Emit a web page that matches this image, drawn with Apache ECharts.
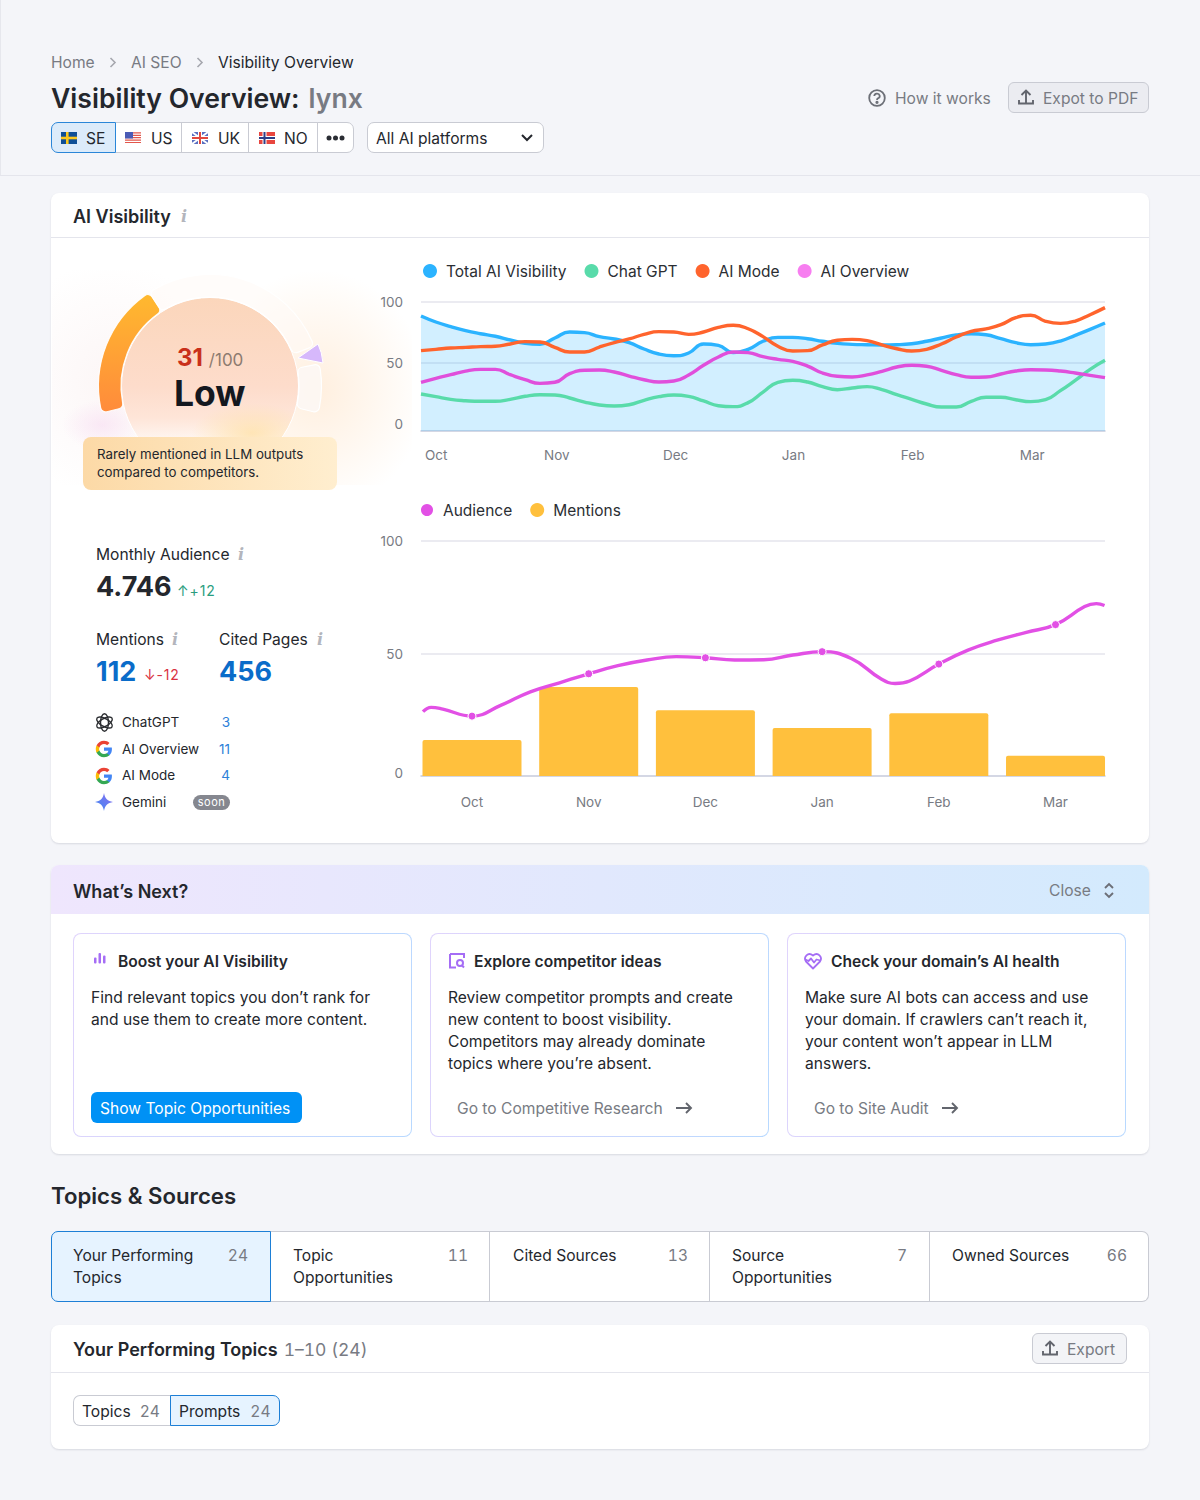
<!DOCTYPE html>
<html><head><meta charset="utf-8">
<script src="https://cdn.jsdelivr.net/npm/echarts@6/dist/echarts.min.js"></script>
<style>
*{box-sizing:border-box}
html,body{margin:0;padding:0}
body{width:1200px;height:1500px;background:#f4f5f9;font-family:Inter,"Noto Sans",sans-serif;color:#24272d;font-size:15.6px;position:relative;overflow:hidden}
.a{position:absolute;white-space:nowrap;line-height:22px;margin-top:1px}
.box{position:absolute;background:#fff;border-radius:8px;box-shadow:0 1px 2px rgba(40,50,80,.14)}
.g{color:#787b83}
.b{font-weight:600}
.hr{position:absolute;height:1px;background:#e4e5ec}
.btn{position:absolute;border:1.5px solid #c9cbd3;border-radius:6px;background:#ebecf1;height:31px}
.inf{position:absolute;font:italic 700 16px/16px "DejaVu Serif",serif;color:#b3b5bc}
.seg{position:absolute;top:122px;height:31px;border:1.5px solid #c9cbd3;background:#fff}
.tile{position:absolute;top:933px;height:204px;width:339px;border:1.5px solid transparent;border-radius:8px;background:linear-gradient(#fff,#fff) padding-box,linear-gradient(100deg,#e0d4fc,#b8d9ff) border-box}
.tab{position:absolute;top:1231px;height:71px;width:220px;background:#fff;border:1.5px solid #c9cbd3;border-left-width:0}
.n{text-align:right;width:40px;font-variant-numeric:tabular-nums}
.tn{font-variant-numeric:tabular-nums}
.s14{font-size:13.5px;margin-top:0}
.m0{margin-top:0}
svg{position:absolute;overflow:visible}
</style></head><body>

<div style="position:absolute;left:0;top:0;width:1px;height:175px;background:#e6e7ed"></div>
<div class="hr" style="left:0;top:175px;width:1200px"></div>

<div class="a g" style="left:51px;top:51px">Home</div>
<svg style="left:109px;top:57px" width="8" height="11" fill="none" stroke="#a5a7ae" stroke-width="1.6"><path d="M1.5 1l4.5 4.5L1.5 10"/></svg>
<div class="a g" style="left:131px;top:51px">AI SEO</div>
<svg style="left:196px;top:57px" width="8" height="11" fill="none" stroke="#a5a7ae" stroke-width="1.6"><path d="M1.5 1l4.5 4.5L1.5 10"/></svg>
<div class="a" style="left:218px;top:51px">Visibility Overview</div>
<div class="a b m0" style="left:51px;top:81px;font-size:26.6px;line-height:34px">Visibility Overview:<span style="color:#787b83;margin-left:9px">lynx</span></div>

<div class="seg" style="left:116px;width:66px;border-left:0"></div>
<div class="seg" style="left:181px;width:68px;border-left:1.5px solid #c9cbd3"></div>
<div class="seg" style="left:248px;width:70px"></div>
<div class="seg" style="left:317px;width:37px;border-radius:0 7px 7px 0"></div>
<div class="seg" style="left:51px;width:65px;background:#dcebfa;border-color:#2a86d8;border-radius:7px 0 0 7px"></div>
<svg style="left:61px;top:132px" width="16" height="12"><rect width="16" height="12" fill="#0f4f96"/><rect x="5" width="2.6" height="12" fill="#fcc81e"/><rect y="4.7" width="16" height="2.6" fill="#fcc81e"/></svg>
<div class="a" style="left:86px;top:127px">SE</div>
<svg style="left:125px;top:132px" width="16" height="12"><rect width="16" height="12" fill="#fff"/><path d="M0 .9h16M0 3.3h16M0 5.7h16M0 8.1h16M0 10.5h16" stroke="#e2574c" stroke-width="1.2"/><rect width="8" height="6.5" fill="#4a5bb5"/></svg>
<div class="a" style="left:151px;top:127px">US</div>
<svg style="left:192px;top:132px" width="16" height="12"><rect width="16" height="12" fill="#5a6fc0"/><path d="M0 0l16 12M16 0L0 12" stroke="#fff" stroke-width="2"/><path d="M8 0v12M0 6h16" stroke="#fff" stroke-width="4"/><path d="M8 0v12M0 6h16" stroke="#e2483d" stroke-width="2"/></svg>
<div class="a" style="left:218px;top:127px">UK</div>
<svg style="left:259px;top:132px" width="16" height="12"><rect width="16" height="12" fill="#e8463f"/><path d="M5.5 0v12M0 6h16" stroke="#fff" stroke-width="4"/><path d="M5.5 0v12M0 6h16" stroke="#2e3e86" stroke-width="2"/></svg>
<div class="a" style="left:284px;top:127px">NO</div>
<svg style="left:326px;top:135px" width="20" height="6" fill="#2a2d33"><circle cx="3" cy="3" r="2.5"/><circle cx="9.5" cy="3" r="2.5"/><circle cx="16" cy="3" r="2.5"/></svg>
<div class="seg" style="left:367px;width:177px;border-radius:7px"></div>
<div class="a" style="left:376px;top:127px">All AI platforms</div>
<svg style="left:521px;top:134px" width="12" height="8" fill="none" stroke="#24272d" stroke-width="2"><path d="M1 1l5 5 5-5"/></svg>

<svg style="left:868px;top:89px" width="18" height="18" fill="none" stroke="#6c6f77" stroke-width="1.8"><circle cx="9" cy="9" r="7.8"/><path d="M6.3 7a2.7 2.5 0 1 1 3.6 2.4c-.7.3-.9.7-.9 1.5"/><circle cx="9" cy="13.3" r=".7" fill="#6c6f77"/></svg>
<div class="a g" style="left:895px;top:87px">How it works</div>
<div class="btn" style="left:1008px;top:82px;width:141px"></div>
<svg style="left:1018px;top:89px" width="16" height="16" fill="none" stroke="#62656d" stroke-width="1.9"><path d="M8 14V2M3.5 6L8 1.5 12.500 6M1 11v3.500h14V11"/></svg>
<div class="a g" style="left:1043px;top:87px">Expot to PDF</div>

<!-- AI visibility card -->
<div class="box" style="left:51px;top:193px;width:1098px;height:650px"></div>
<div class="a b" style="left:73px;top:205px;font-size:18px">AI Visibility</div>
<div class="inf" style="left:181px;top:209px">i</div>
<div class="hr" style="left:51px;top:237px;width:1098px"></div>

<!-- Gauge decoration -->
<div style="position:absolute;left:52px;top:270px;width:360px;height:215px;background:
radial-gradient(ellipse 110px 120px at 265px 120px,rgba(255,226,196,.55),rgba(255,255,255,0) 100%),
radial-gradient(ellipse 40px 25px at 50px 155px,rgba(246,214,240,.5),rgba(255,255,255,0) 100%),
radial-gradient(ellipse 110px 120px at 60px 110px,rgba(250,240,240,.6),rgba(255,255,255,0) 100%)"></div>
<div style="position:absolute;left:121px;top:297px;width:178px;height:178px;border-radius:50%;border:1.5px solid #fff;background:radial-gradient(ellipse 60px 30px at 130px 135px,rgba(255,226,170,.8),rgba(255,226,170,0)),linear-gradient(180deg,#fbd6bb 0%,#fddccb 50%,#fee5d8 68%,rgba(255,245,238,.6) 82%,rgba(255,255,255,0) 90%)"></div>
<div id="gauge" style="position:absolute;left:60px;top:270px;width:300px;height:210px"></div>
<svg style="left:0;top:0" width="1200" height="500"><path d="M298 358 L318 344 Q322 352 323 363 Z" fill="#d6b8fb" stroke="#fff" stroke-width="1" stroke-linejoin="round"/></svg>
<div class="a" style="left:177px;top:346px;font-size:24px;font-weight:700;color:#c9301a">31<span style="font-size:17px;font-weight:400;color:#8d7b70;margin-left:6px">/100</span></div>
<div class="a" style="left:174px;top:372px;font-size:35.5px;line-height:42px;font-weight:700;color:#14181f">Low</div>
<div style="position:absolute;left:83px;top:437px;width:254px;height:53px;border-radius:8px;background:linear-gradient(90deg,#fcd9a6,#ffeecf)"></div>
<div class="a m0" style="left:97px;top:445px;font-size:13.3px;line-height:18px">Rarely mentioned in LLM outputs<br>compared to competitors.</div>

<div class="a" style="left:96px;top:543px">Monthly Audience</div><div class="inf" style="left:238px;top:547px">i</div>
<div class="a" style="left:96px;top:569px;font-size:27px;line-height:34px;font-weight:700">4.746</div>
<div class="a m0" style="left:177px;top:580px;font-size:14px;color:#2a9d7e;letter-spacing:.9px">↑+12</div>
<div class="a" style="left:96px;top:628px">Mentions</div><div class="inf" style="left:172px;top:632px">i</div>
<div class="a" style="left:219px;top:628px">Cited Pages</div><div class="inf" style="left:317px;top:632px">i</div>
<div class="a" style="left:96px;top:654px;font-size:27px;line-height:34px;font-weight:700;color:#0a6cc9">112</div>
<div class="a m0" style="left:144px;top:664px;font-size:14px;color:#d9303f;letter-spacing:.8px">↓-12</div>
<div class="a" style="left:219px;top:654px;font-size:27px;line-height:34px;font-weight:700;color:#0a6cc9">456</div>

<svg style="left:95px;top:713px" width="19" height="19" viewBox="0 0 24 24" fill="none" stroke="#2b2d31" stroke-width="1.7"><ellipse cx="12" cy="12" rx="5" ry="11"/><ellipse cx="12" cy="12" rx="5" ry="11" transform="rotate(60 12 12)"/><ellipse cx="12" cy="12" rx="5" ry="11" transform="rotate(120 12 12)"/></svg>
<div class="a s14" style="left:122px;top:711px">ChatGPT</div><div class="a s14" style="left:190px;width:40px;top:711px;color:#2c80d8;text-align:right">3</div>
<svg style="left:95px;top:740px" width="18" height="18" viewBox="0 0 24 24"><use href="#gg"/></svg>
<div class="a s14" style="left:122px;top:738px">AI Overview</div><div class="a s14" style="left:190px;width:40px;top:738px;color:#2c80d8;text-align:right">11</div>
<svg style="left:95px;top:767px" width="18" height="18" viewBox="0 0 24 24"><defs><g id="gg"><path fill="#4285F4" d="M22.560 12.250c0-.78-.07-1.530-.2-2.250H12v4.260h5.920c-.26 1.370-1.040 2.530-2.210 3.310v2.770h3.570c2.080-1.920 3.280-4.740 3.280-8.090z"/><path fill="#34A853" d="M12 23c2.970 0 5.460-.98 7.280-2.660l-3.570-2.770c-.98.66-2.230 1.060-3.710 1.060-2.860 0-5.290-1.930-6.160-4.530H2.180v2.840C3.990 20.530 7.700 23 12 23z"/><path fill="#FBBC05" d="M5.840 14.090c-.22-.66-.35-1.360-.35-2.090s.13-1.430.35-2.090V7.070H2.180C1.430 8.550 1 10.220 1 12s.43 3.450 1.180 4.930l3.660-2.840z"/><path fill="#EA4335" d="M12 5.380c1.620 0 3.060.56 4.210 1.640l3.150-3.150C17.450 2.090 14.970 1 12 1 7.700 1 3.990 3.470 2.180 7.070l3.660 2.840c.87-2.600 3.300-4.530 6.160-4.530z"/></g></defs><use href="#gg"/></svg>
<div class="a s14" style="left:122px;top:764px">AI Mode</div><div class="a s14" style="left:190px;width:40px;top:764px;color:#2c80d8;text-align:right">4</div>
<svg style="left:95px;top:793px" width="18" height="18" viewBox="0 0 24 24"><defs><linearGradient id="gm" x1="0" y1="1" x2="1" y2="0"><stop offset="0" stop-color="#3d8bf2"/><stop offset="1" stop-color="#8b6cf0"/></linearGradient></defs><path fill="url(#gm)" d="M12 0C13 7 17 11 24 12C17 13 13 17 12 24C11 17 7 13 0 12C7 11 11 7 12 0Z"/></svg>
<div class="a s14" style="left:122px;top:791px">Gemini</div>
<div class="a m0" style="left:193px;top:795px;width:37px;height:15px;border-radius:8px;background:#85878f;color:#fff;font-size:11px;line-height:14px;text-align:center;letter-spacing:.5px">soon</div>

<div id="chartVis" style="position:absolute;left:370px;top:250px;width:780px;height:220px"></div>
<div id="chartAud" style="position:absolute;left:370px;top:490px;width:780px;height:340px"></div>

<!-- What's next -->
<div class="box" style="left:51px;top:865px;width:1098px;height:289px"></div>
<div style="position:absolute;left:51px;top:865px;width:1098px;height:49px;border-radius:8px 8px 0 0;background:linear-gradient(90deg,#efe6fd,#d3eafd)"></div>
<div class="a b m0" style="left:73px;top:881px;font-size:18px">What’s Next?</div>
<div class="a g" style="left:1049px;top:879px">Close</div>
<svg style="left:1103px;top:882px" width="12" height="17" fill="none" stroke="#6c6f77" stroke-width="1.9"><path d="M2 6l4-4 4 4M2 11l4 4 4-4"/></svg>

<div class="tile" style="left:73px"></div><div class="tile" style="left:430px"></div><div class="tile" style="left:787px"></div>

<svg style="left:94px;top:953px" width="13" height="13" fill="#a56df5"><rect y="4.500" width="2.500" height="6" rx="1"/><rect x="4.500" y="0" width="2.500" height="10.500" rx="1"/><rect x="9" y="2.500" width="2.500" height="8" rx="1"/></svg>
<div class="a b" style="left:118px;top:950px">Boost your AI Visibility</div>
<div class="a" style="left:91px;top:986px">Find relevant topics you don’t rank for<br>and use them to create more content.</div>
<div style="position:absolute;left:91px;top:1092px;width:211px;height:31px;border-radius:6px;background:#0091f5"></div>
<div class="a" style="left:100px;top:1097px;color:#fff">Show Topic Opportunities</div>

<svg style="left:449px;top:953px" width="17" height="16" fill="none" stroke="#a56df5" stroke-width="2"><path d="M1 1h14v4M1 1v13.500h6"/><circle cx="11" cy="10" r="3"/><path d="M13 12.500l2 2"/></svg>
<div class="a b" style="left:474px;top:950px">Explore competitor ideas</div>
<div class="a" style="left:448px;top:986px">Review competitor prompts and create<br>new content to boost visibility.<br>Competitors may already dominate<br>topics where you’re absent.</div>
<div class="a g" style="left:457px;top:1097px">Go to Competitive Research</div>
<svg style="left:675px;top:1102px" width="18" height="12" fill="none" stroke="#62656d" stroke-width="1.9"><path d="M1 6h15M11 1l5 5-5 5"/></svg>

<svg style="left:804px;top:952px" width="18" height="18" viewBox="0 0 18 18" fill="none" stroke="#a56df5" stroke-width="1.8" stroke-linejoin="round"><path d="M9 16.500L2 9.500C-1 5 4 -.5 9 3.500C14 -.5 19 5 16 9.500Z"/><path d="M1.500 7.500l3 1.500L7 6.500 10 10.500 12.500 7.500l4 1"/></svg>
<div class="a b" style="left:831px;top:950px">Check your domain’s AI health</div>
<div class="a" style="left:805px;top:986px">Make sure AI bots can access and use<br>your domain. If crawlers can’t reach it,<br>your content won’t appear in LLM<br>answers.</div>
<div class="a g" style="left:814px;top:1097px">Go to Site Audit</div>
<svg style="left:941px;top:1102px" width="18" height="12" fill="none" stroke="#62656d" stroke-width="1.9"><path d="M1 6h15M11 1l5 5-5 5"/></svg>

<!-- Topics & sources -->
<div class="a b m0" style="left:51px;top:1180px;font-size:22.2px;line-height:32px">Topics &amp; Sources</div>
<div class="tab" style="left:270px"></div><div class="tab" style="left:490px"></div><div class="tab" style="left:710px"></div>
<div class="tab" style="left:930px;width:219px;border-radius:0 7px 7px 0"></div>
<div class="tab" style="left:51px;border:1.5px solid #1d7fd6;background:#e6f3ff;border-radius:7px 0 0 7px"></div>
<div class="a" style="left:73px;top:1244px">Your Performing<br>Topics</div><div class="a g n" style="left:208px;top:1244px">24</div>
<div class="a" style="left:293px;top:1244px">Topic<br>Opportunities</div><div class="a g n" style="left:428px;top:1244px">11</div>
<div class="a" style="left:513px;top:1244px">Cited Sources</div><div class="a g n" style="left:648px;top:1244px">13</div>
<div class="a" style="left:732px;top:1244px">Source<br>Opportunities</div><div class="a g n" style="left:867px;top:1244px">7</div>
<div class="a" style="left:952px;top:1244px">Owned Sources</div><div class="a g n" style="left:1087px;top:1244px">66</div>

<div class="box" style="left:51px;top:1325px;width:1098px;height:124px"></div>
<div class="a b" style="left:73px;top:1338px;font-size:18px">Your Performing Topics<span class="g tn" style="font-weight:400;margin-left:6px;font-size:17.5px">1–10 (24)</span></div>
<div class="hr" style="left:51px;top:1372px;width:1098px"></div>
<div class="btn" style="left:1032px;top:1333px;width:95px;background:#f3f4f7"></div>
<svg style="left:1042px;top:1340px" width="16" height="16" fill="none" stroke="#62656d" stroke-width="1.9"><path d="M8 14V2M3.500 6L8 1.500 12.500 6M1 11v3.500h14V11"/></svg>
<div class="a g" style="left:1067px;top:1338px">Export</div>
<div style="position:absolute;left:73px;top:1395px;width:99px;height:31px;border:1.5px solid #c9cbd3;border-right:0;border-radius:7px 0 0 7px;background:#fff"></div>
<div style="position:absolute;left:170px;top:1395px;width:110px;height:31px;border:1.5px solid #1d7fd6;border-radius:0 7px 7px 0;background:#e6f3ff"></div>
<div class="a" style="left:82px;top:1400px">Topics<span class="g tn" style="margin-left:9px">24</span></div>
<div class="a" style="left:179px;top:1400px">Prompts<span class="g tn" style="margin-left:10px">24</span></div>

<script>
// ---- AI Visibility chart (samples every eighth of a month) ----
const visWeeks = ['Oct 1','Oct 2','Oct 3','Oct 4','Oct 5','Oct 6','Oct 7','Oct 8','Nov 1','Nov 2','Nov 3','Nov 4','Nov 5','Nov 6','Nov 7','Nov 8','Dec 1','Dec 2','Dec 3','Dec 4','Dec 5','Dec 6','Dec 7','Dec 8','Jan 1','Jan 2','Jan 3','Jan 4','Jan 5','Jan 6','Jan 7','Jan 8','Feb 1','Feb 2','Feb 3','Feb 4','Feb 5','Feb 6','Feb 7','Feb 8','Mar 1','Mar 2','Mar 3','Mar 4','Mar 5','Mar 6','Mar 7'];
const totalVisibility = [88.5,83.6,79.8,76.5,74,71.9,68.9,66.1,65.3,70.5,75.4,74.9,71.6,69.7,66.7,61.5,57.4,56,58.2,65.6,64.5,58.5,61.2,67.8,71,71,69.9,67.8,66.1,65.3,65,64.8,65,65.8,67.8,70.5,73,74,73.2,69.9,66.7,65,65.6,68,72.7,77.6,82.8];
const chatGpt = [24.6,22.4,20.2,19.1,18.6,18.6,20.2,22.7,24,23.8,21.3,18,15.6,14.8,15.8,19.4,22.4,23.8,22.7,18.9,15,14.2,17.5,26.2,34.2,35.8,34.4,30.6,28.1,29.5,30.6,28.1,24,20.2,16.4,13.9,13.9,18.6,21.9,21.9,19.9,18.3,19.9,27.3,35.8,44.8,52.2];
const aiMode = [60.1,61.2,62.3,62.8,63.4,63.7,65.6,67.5,67.2,62.8,59,59,63.1,66.7,69.7,73.5,75.7,75.4,73.5,75.4,79.2,80.9,78.1,71.6,63.7,59.8,60.1,64.8,68.6,69.4,68.3,64.8,61.7,59.8,61.2,65.6,71.3,76,77.9,81.4,87.2,89.1,84.2,82.5,84.4,89.6,95.4];
const aiOverview = [34.2,37.4,40.4,43.4,44.8,44.8,40.4,36.3,33.3,34.2,41.3,44,44.3,42.6,39.3,36.3,34.4,35.2,40.2,48.1,54.9,59,58.5,55.2,53,51.4,47.5,41.8,39.1,38.5,40.2,43.2,46.7,48.1,47.3,44,40.4,38.3,38.5,41,43.4,44.5,44.3,43.4,41.8,39.9,38];

// ---- Audience / Mentions chart ----
const months = ['Oct','Nov','Dec','Jan','Feb','Mar'];
const monthIndex = [0,1,2,3,4,5];
const mentions = [15.3,37.9,28,20.4,26.7,8.6];
const audienceX = [-0.42,-0.35,-0.25,0,0.25,0.5,0.75,1,1.25,1.5,1.75,2,2.25,2.5,2.75,3,3.25,3.5,3.625,3.75,4,4.25,4.5,4.75,5,5.25,5.35,5.42];
const audience = [24.3,26.2,25.4,22.3,27.2,33.1,37.1,41.1,44.7,47.2,48.7,48.2,47.2,47.3,49.4,50.9,47.9,39,36.8,37.9,45.4,51.6,56,59.5,62.9,70.9,72.2,71.4];

// ---- Gauge ----
const gaugeScore = 31;
const gaugeArcs = [71,102,9.5,25.5,152]; // degrees: score, rest, marker, rest, hidden

const C = {axisText:'#787b83', split:'#e4e5ec', axis:'#c6cadb', legend:'#2b2e33'};
const font = 'Inter';
const legend = (left,top)=>({left,top,icon:'circle',itemWidth:14,itemHeight:14,itemGap:18,textStyle:{fontSize:15.5,color:C.legend,fontFamily:font,padding:[0,0,0,4]}});
const line = (name,data,color,lineColor,extra)=>Object.assign({name,type:'line',data,smooth:0.5,symbol:'none',itemStyle:{color},lineStyle:{color:lineColor||color,width:3.4},silent:true},extra);

const visChart = echarts.init(document.getElementById('chartVis'),null,{renderer:'svg'});
visChart.setOption({
  animation:false,
  textStyle:{fontFamily:font},
  legend:legend(48,8),
  grid:{left:51,right:45,top:52,height:129,containLabel:false},
  xAxis:{type:'category',boundaryGap:false,data:visWeeks,
    axisLine:{onZero:false,lineStyle:{color:C.axis,width:1.5}},axisTick:{show:false},
    axisLabel:{interval:7,align:'left',padding:[0,0,0,4],margin:17,fontSize:13.5,color:C.axisText,fontFamily:font,formatter:v=>v.split(' ')[0]}},
  yAxis:{type:'value',min:-5.74,max:100,
    axisLine:{show:false},axisTick:{show:false,customValues:[50,100]},
    splitLine:{lineStyle:{color:C.split,width:1.5}},
    axisLabel:{customValues:[0,50,100],margin:18,fontSize:13.5,color:C.axisText,fontFamily:font}},
  series:[
    line('Total AI Visibility',totalVisibility,'#2bb3ff',null,{areaStyle:{color:'#2bb3ff',opacity:0.21,origin:'start'},z:2}),
    line('Chat GPT',chatGpt,'#59dbaa',null,{z:3}),
    line('AI Mode',aiMode,'#ff642d',null,{z:5}),
    line('AI Overview',aiOverview,'#f77ef0','#e04fdb',{z:4})
  ]
});

const audChart = echarts.init(document.getElementById('chartAud'),null,{renderer:'svg'});
audChart.setOption({
  animation:false,
  textStyle:{fontFamily:font},
  legend:legend(44,7),
  grid:{left:51,right:45,top:51,height:235},
  xAxis:{type:'value',min:-0.437,max:5.424,
    axisLine:{onZero:false,lineStyle:{color:C.axis,width:1.5}},axisTick:{show:false,customValues:monthIndex},splitLine:{show:false},
    axisLabel:{customValues:monthIndex,margin:19,fontSize:13.5,color:C.axisText,fontFamily:font,formatter:v=>months[v]}},
  yAxis:[
    {type:'value',min:-4.26,max:100,axisLine:{show:false},axisTick:{show:false,customValues:[50,100]},
      splitLine:{lineStyle:{color:C.split,width:1.5}},
      axisLabel:{customValues:[0,50,100],verticalAlignMinLabel:'top',margin:18,fontSize:13.5,color:C.axisText,fontFamily:font}},
    {type:'value',min:0,max:100,show:false,splitLine:{show:false}}
  ],
  series:[
    {name:'Audience',type:'line',xAxisIndex:0,yAxisIndex:0,z:5,smooth:0.45,silent:true,
      data:audienceX.map((x,i)=>[x,audience[i]]),symbol:'circle',showSymbol:true,showAllSymbol:true,
      symbolSize:v=>Number.isInteger(v[0])?8:0,
      itemStyle:{color:'#e250e5',borderColor:'#fff',borderWidth:1},lineStyle:{color:'#e250e5',width:3.4}},
    {name:'Mentions',type:'bar',xAxisIndex:0,yAxisIndex:1,z:2,silent:true,barWidth:99,
      data:monthIndex.map(i=>[i,mentions[i]]),itemStyle:{color:'#ffc03d',borderRadius:[2,2,0,0]}}
  ]
});

const gauge = echarts.init(document.getElementById('gauge'),null,{renderer:'svg'});
gauge.setOption({
  animation:false,
  title:{show:false},
  series:[{type:'pie',silent:true,center:[150,116],radius:[89,111.500],startAngle:194,clockwise:true,
    label:{show:false},labelLine:{show:false},
    itemStyle:{borderRadius:5,borderColor:'rgba(255,255,255,.9)',borderWidth:1.2},
    data:[
      {value:gaugeArcs[0],name:'Score '+gaugeScore,itemStyle:{color:new echarts.graphic.LinearGradient(0,0,0,1,[{offset:0,color:'#ffb92f'},{offset:1,color:'#ff8b3b'}])}},
      {value:gaugeArcs[1],name:'Rest',itemStyle:{color:'rgba(255,250,246,.55)'}},
      {value:gaugeArcs[2],name:'Marker',itemStyle:{color:'rgba(255,255,255,0)',borderColor:'rgba(255,255,255,0)'}},
      {value:gaugeArcs[3],name:'Rest2',itemStyle:{color:'rgba(253,247,244,.9)',borderColor:'#fff'}},
      {value:gaugeArcs[4],name:'Hidden',itemStyle:{color:'rgba(0,0,0,0)',borderColor:'rgba(0,0,0,0)'}}
    ]}]
});
</script>
</body></html>
